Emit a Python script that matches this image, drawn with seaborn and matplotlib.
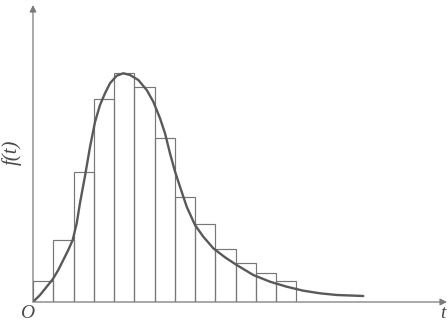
import numpy as np
import pandas as pd
import matplotlib
matplotlib.use("Agg")
import matplotlib.pyplot as plt
import seaborn as sns

# Histogram data (bin edges in t units, bar heights in f units)
bin_edges = [0, 1, 2, 3, 4, 5, 6, 7, 8, 9, 10, 11, 12, 13]
bar_heights = [2.1, 6.2, 13.0, 20.3, 22.87, 21.47, 16.37, 10.47, 7.77, 5.3, 3.87, 2.87, 2.1]

# Smooth density curve points
curve_t = [0.0, 0.346, 0.677, 0.973, 1.249, 1.496, 1.743, 1.960, 2.158, 2.321,
           2.568, 2.815, 3.062, 3.309, 3.556, 3.802, 4.133, 4.459, 4.790, 5.200,
           5.615, 5.941, 6.272, 6.519, 6.765, 7.012, 7.259, 7.590, 8.0, 8.410,
           8.904, 9.481, 10.059, 10.879, 11.704, 12.528, 13.348, 14.173, 14.997, 16.311]
curve_f = [0.0, 0.70, 1.53, 2.27, 3.2, 4.2, 5.2, 6.2, 7.87, 9.9,
           12.6, 15.5, 18.0, 19.7, 20.87, 21.87, 22.63, 22.87, 22.7, 22.2,
           21.2, 20.03, 18.37, 16.87, 14.87, 13.05, 11.53, 9.53, 7.7, 6.53,
           5.37, 4.47, 3.7, 2.7, 2.03, 1.53, 1.13, 0.87, 0.7, 0.6]

x_label = "t"
y_label = "f(t)"
origin_label = "O"

sns.set_style("white")
plt.rcParams["font.family"] = ["Liberation Serif", "DejaVu Serif"]

W, H = 448, 321
fig = plt.figure(figsize=(W / 100, H / 100), dpi=100)
fig.patch.set_facecolor("white")
x0, y0 = 33, 302
x1, y1 = 447, 5
ax = fig.add_axes([x0 / W, (H - y0) / H, (x1 - x0) / W, (y0 - y1) / H])

centers = [(bin_edges[i] + bin_edges[i + 1]) / 2 for i in range(len(bar_heights))]
df = pd.DataFrame({"t": centers, "w": bar_heights})
sns.histplot(data=df, x="t", weights="w", bins=bin_edges, fill=False,
             element="bars", color="#777777", linewidth=0.85, ax=ax)

sns.lineplot(x=curve_t, y=curve_f, color="#595959", linewidth=1.7, ax=ax)
for ln in ax.lines:
    ln.set_solid_joinstyle("round")
    ln.set_solid_capstyle("round")

ax.set_xlim(0, (x1 - x0) / 20.25)
ax.set_ylim(0, (y0 - y1) / 10)
ax.set_xlabel("")
ax.set_ylabel("")
ax.set_xticks([])
ax.set_yticks([])
for s in ax.spines.values():
    s.set_visible(False)

axcol = "#7a7a7a"
ax.annotate("", xy=(1.0, 0), xytext=(0, 0), xycoords="axes fraction",
            arrowprops=dict(arrowstyle="-|>", color=axcol, lw=0.9,
                            mutation_scale=10, shrinkA=0, shrinkB=0),
            annotation_clip=False)
ax.annotate("", xy=(0, 1.0), xytext=(0, 0), xycoords="axes fraction",
            arrowprops=dict(arrowstyle="-|>", color=axcol, lw=0.9,
                            mutation_scale=10, shrinkA=0, shrinkB=0),
            annotation_clip=False)

tc = "#4a4a4a"
fig.text(27 / W, (H - 313) / H, origin_label, ha="center", va="center",
         fontsize=14, style="italic", color=tc)
fig.text(12 / W, (H - 152) / H, y_label, ha="center", va="center",
         fontsize=15, style="italic", rotation=90, color=tc)
fig.text(443 / W, (H - 313) / H, x_label, ha="center", va="center",
         fontsize=14, style="italic", color=tc)

fig.savefig("out.png", dpi=100, facecolor="white")
